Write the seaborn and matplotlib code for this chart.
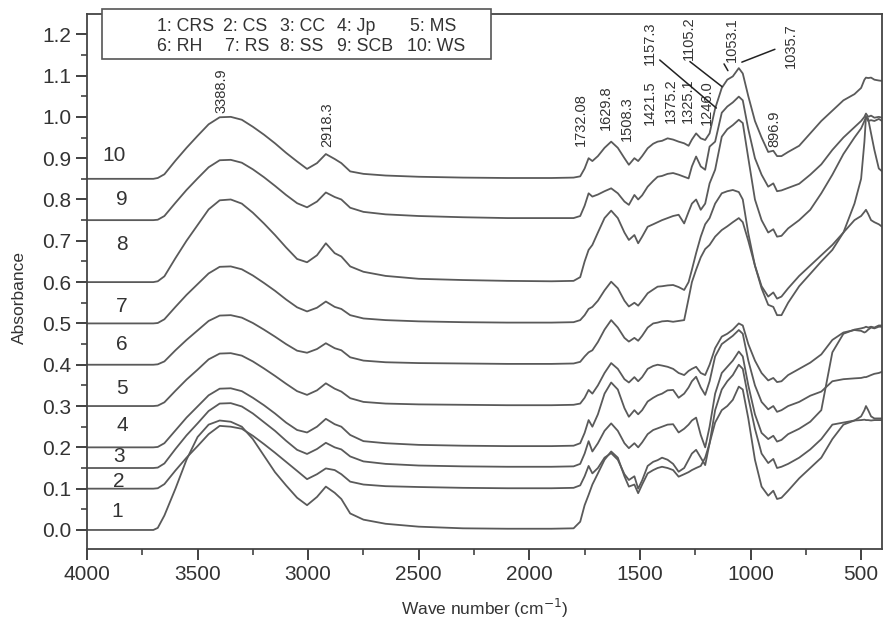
import pandas as pd
import matplotlib
matplotlib.use('Agg')
import matplotlib.pyplot as plt
import seaborn as sns
from matplotlib.patches import Rectangle
from matplotlib.ticker import MultipleLocator, FormatStrFormatter

# FTIR spectra of ten biomass samples, stacked with offsets

wavenumber = [
    4000, 3750, 3700, 3680, 3650, 3600, 3550, 3500, 3450, 3400,
    3350, 3300, 3250, 3200, 3150, 3100, 3050, 3005, 2960, 2920,
    2880, 2850, 2810, 2750, 2650, 2500, 2300, 2100, 1900, 1800,
    1770, 1750, 1732, 1715, 1690, 1660, 1630, 1600, 1570, 1550,
    1525, 1508, 1490, 1465, 1440, 1420, 1400, 1375, 1350, 1325,
    1300, 1280, 1265, 1246, 1225, 1205, 1185, 1160, 1130, 1105,
    1080, 1053, 1035, 1010, 980, 950, 920, 897, 880, 860,
    830, 780, 730, 680, 630, 580, 530, 500, 485, 478,
    468, 455, 440, 420, 405,
]

crs = [
    0.0, 0.0, 0.0, 0.005, 0.035, 0.10, 0.17, 0.225, 0.255, 0.265,
    0.262, 0.25, 0.22, 0.18, 0.14, 0.108, 0.078, 0.06, 0.08, 0.105,
    0.09, 0.075, 0.04, 0.025, 0.015, 0.008, 0.004, 0.003, 0.003, 0.004,
    0.02, 0.06, 0.085, 0.11, 0.137, 0.17, 0.19, 0.175, 0.13, 0.105,
    0.11, 0.089, 0.11, 0.137, 0.145, 0.15, 0.153, 0.15, 0.145, 0.129,
    0.135, 0.14, 0.145, 0.15, 0.155, 0.175, 0.21, 0.26, 0.29, 0.30,
    0.315, 0.347, 0.34, 0.27, 0.17, 0.105, 0.083, 0.095, 0.075, 0.078,
    0.095, 0.125, 0.15, 0.175, 0.22, 0.255, 0.265, 0.266, 0.267, 0.266,
    0.266, 0.265, 0.266, 0.266, 0.266,
]
cs = [
    0.10, 0.10, 0.10, 0.101, 0.111, 0.144, 0.175, 0.203, 0.232, 0.252,
    0.25, 0.245, 0.228, 0.208, 0.187, 0.165, 0.143, 0.123, 0.135, 0.149,
    0.145, 0.135, 0.117, 0.11, 0.106, 0.104, 0.102, 0.101, 0.101, 0.102,
    0.108, 0.13, 0.155, 0.137, 0.15, 0.175, 0.186, 0.17, 0.135, 0.121,
    0.13, 0.10, 0.12, 0.155, 0.165, 0.169, 0.175, 0.17, 0.16, 0.141,
    0.15, 0.17, 0.185, 0.194, 0.175, 0.157, 0.21, 0.29, 0.34, 0.36,
    0.375, 0.40, 0.39, 0.32, 0.245, 0.185, 0.162, 0.172, 0.15, 0.153,
    0.16, 0.175, 0.195, 0.22, 0.255, 0.26, 0.265, 0.275, 0.29, 0.30,
    0.29, 0.275, 0.27, 0.27, 0.27,
]
cc = [
    0.15, 0.15, 0.15, 0.151, 0.161, 0.196, 0.229, 0.258, 0.288, 0.306,
    0.307, 0.299, 0.282, 0.261, 0.24, 0.216, 0.194, 0.184, 0.196, 0.211,
    0.20, 0.195, 0.178, 0.166, 0.16, 0.156, 0.154, 0.153, 0.153, 0.154,
    0.16, 0.185, 0.215, 0.19, 0.21, 0.24, 0.258, 0.24, 0.21, 0.198,
    0.21, 0.20, 0.212, 0.232, 0.242, 0.246, 0.25, 0.255, 0.256, 0.236,
    0.245, 0.255, 0.265, 0.272, 0.23, 0.20, 0.25, 0.33, 0.38, 0.395,
    0.41, 0.432, 0.42, 0.35, 0.28, 0.235, 0.22, 0.228, 0.214, 0.218,
    0.232, 0.245, 0.262, 0.29, 0.43, 0.475, 0.485, 0.488, 0.49, 0.492,
    0.49, 0.492, 0.49, 0.495, 0.495,
]
jp = [
    0.20, 0.20, 0.20, 0.201, 0.21, 0.241, 0.272, 0.299, 0.326, 0.342,
    0.343, 0.336, 0.32, 0.302, 0.282, 0.26, 0.242, 0.236, 0.25, 0.269,
    0.256, 0.25, 0.23, 0.215, 0.21, 0.206, 0.204, 0.203, 0.203, 0.204,
    0.21, 0.235, 0.266, 0.25, 0.28, 0.33, 0.357, 0.34, 0.295, 0.274,
    0.29, 0.28, 0.29, 0.311, 0.32, 0.326, 0.33, 0.338, 0.339, 0.32,
    0.33, 0.345, 0.36, 0.371, 0.345, 0.327, 0.36, 0.42, 0.45, 0.46,
    0.47, 0.484, 0.475, 0.41, 0.35, 0.31, 0.292, 0.30, 0.286, 0.29,
    0.30, 0.31, 0.325, 0.335, 0.36, 0.365, 0.367, 0.368, 0.37, 0.37,
    0.372, 0.375, 0.378, 0.38, 0.383,
]
ms = [
    0.30, 0.30, 0.30, 0.301, 0.309, 0.337, 0.364, 0.388, 0.413, 0.427,
    0.428, 0.422, 0.408, 0.391, 0.373, 0.354, 0.336, 0.327, 0.338, 0.355,
    0.342, 0.335, 0.319, 0.31, 0.306, 0.304, 0.303, 0.302, 0.302, 0.303,
    0.306, 0.32, 0.339, 0.33, 0.35, 0.38, 0.404, 0.39, 0.365, 0.357,
    0.37, 0.36, 0.37, 0.39, 0.397, 0.40, 0.398, 0.395, 0.39, 0.38,
    0.375, 0.385, 0.39, 0.395, 0.38, 0.375, 0.40, 0.44, 0.468, 0.475,
    0.485, 0.50, 0.495, 0.45, 0.41, 0.38, 0.362, 0.368, 0.358, 0.36,
    0.375, 0.39, 0.405, 0.425, 0.46, 0.478, 0.484, 0.482, 0.478, 0.48,
    0.485, 0.49, 0.488, 0.492, 0.492,
]
rh = [
    0.40, 0.40, 0.40, 0.401, 0.408, 0.435, 0.46, 0.483, 0.506, 0.519,
    0.52, 0.514, 0.501, 0.485, 0.468, 0.45, 0.434, 0.429, 0.438, 0.452,
    0.44, 0.435, 0.418, 0.41, 0.406, 0.404, 0.403, 0.402, 0.402, 0.403,
    0.407, 0.42, 0.43, 0.435, 0.455, 0.485, 0.508, 0.49, 0.465, 0.456,
    0.465, 0.458, 0.47, 0.49, 0.50, 0.502, 0.505, 0.506, 0.504, 0.506,
    0.508, 0.56, 0.60, 0.63, 0.66, 0.68, 0.69, 0.71, 0.726, 0.735,
    0.745, 0.755, 0.745, 0.70, 0.64, 0.585, 0.545, 0.54, 0.52, 0.52,
    0.55, 0.59, 0.62, 0.65, 0.678, 0.72, 0.79, 0.85, 0.94, 1.0,
    0.995, 0.96, 0.92, 0.875, 0.868,
]
rs = [
    0.50, 0.50, 0.50, 0.501, 0.51, 0.54, 0.569, 0.595, 0.621, 0.637,
    0.638, 0.631, 0.616, 0.598, 0.579, 0.558, 0.539, 0.529, 0.538, 0.553,
    0.54, 0.535, 0.52, 0.512, 0.508, 0.505, 0.503, 0.502, 0.502, 0.503,
    0.508, 0.52, 0.535, 0.54, 0.555, 0.58, 0.601, 0.585, 0.555, 0.541,
    0.55, 0.543, 0.555, 0.573, 0.582, 0.589, 0.59, 0.592, 0.593, 0.588,
    0.581, 0.60, 0.63, 0.67, 0.71, 0.74, 0.755, 0.79, 0.815, 0.82,
    0.823, 0.818, 0.80, 0.718, 0.64, 0.59, 0.565, 0.575, 0.56, 0.565,
    0.585, 0.615, 0.64, 0.665, 0.69, 0.72, 0.75, 0.76, 0.77, 0.775,
    0.765, 0.75, 0.745, 0.74, 0.734,
]
ss = [
    0.60, 0.60, 0.60, 0.602, 0.614, 0.658, 0.70, 0.738, 0.776, 0.798,
    0.80, 0.79, 0.768, 0.742, 0.714, 0.684, 0.656, 0.648, 0.665, 0.694,
    0.67, 0.662, 0.638, 0.625, 0.615, 0.608, 0.605, 0.603, 0.602, 0.603,
    0.612, 0.65, 0.678, 0.69, 0.72, 0.755, 0.773, 0.755, 0.72, 0.702,
    0.714, 0.694, 0.71, 0.734, 0.74, 0.745, 0.75, 0.755, 0.76, 0.763,
    0.742, 0.77, 0.79, 0.80, 0.775, 0.79, 0.839, 0.872, 0.952, 0.97,
    0.98, 0.993, 0.985, 0.90, 0.80, 0.75, 0.72, 0.728, 0.71, 0.712,
    0.73, 0.75, 0.775, 0.815, 0.86, 0.91, 0.95, 0.972, 0.99, 1.0,
    0.99, 0.992, 0.99, 0.995, 0.99,
]
scb = [
    0.75, 0.75, 0.75, 0.751, 0.76, 0.792, 0.823, 0.851, 0.878, 0.895,
    0.896, 0.889, 0.873, 0.854, 0.833, 0.811, 0.791, 0.781, 0.795, 0.817,
    0.806, 0.80, 0.78, 0.77, 0.764, 0.76, 0.757, 0.755, 0.755, 0.755,
    0.76, 0.785, 0.815, 0.807, 0.812, 0.82, 0.827, 0.815, 0.795, 0.787,
    0.811, 0.80, 0.81, 0.831, 0.845, 0.855, 0.857, 0.862, 0.864, 0.86,
    0.855, 0.851, 0.88, 0.904, 0.88, 0.872, 0.928, 0.94, 1.01, 1.025,
    1.035, 1.049, 1.04, 0.97, 0.90, 0.86, 0.831, 0.839, 0.82, 0.822,
    0.828, 0.838, 0.86, 0.885, 0.92, 0.95, 0.975, 0.99, 1.0, 1.008,
    1.0, 1.003, 0.998, 1.0, 0.998,
]
ws = [
    0.85, 0.85, 0.85, 0.852, 0.861, 0.894, 0.925, 0.954, 0.982, 0.999,
    1.0, 0.993, 0.976, 0.957, 0.936, 0.913, 0.892, 0.874, 0.888, 0.91,
    0.898, 0.888, 0.868, 0.862, 0.858, 0.855, 0.853, 0.852, 0.852, 0.853,
    0.856, 0.875, 0.90, 0.893, 0.905, 0.925, 0.94, 0.925, 0.90, 0.884,
    0.90, 0.893, 0.905, 0.924, 0.935, 0.94, 0.942, 0.948, 0.945, 0.94,
    0.936, 0.93, 0.945, 0.96, 0.948, 0.944, 0.96, 1.02, 1.07, 1.09,
    1.098, 1.118, 1.105, 1.05, 0.99, 0.95, 0.915, 0.918, 0.905, 0.905,
    0.915, 0.93, 0.96, 0.99, 1.015, 1.04, 1.055, 1.07, 1.09, 1.095,
    1.094, 1.095, 1.09, 1.088, 1.087,
]

sample_ids = ['1', '2', '3', '4', '5', '6', '7', '8', '9', '10']
sample_names = ['CRS', 'CS', 'CC', 'Jp', 'MS', 'RH', 'RS', 'SS', 'SCB', 'WS']
spectra = [crs, cs, cc, jp, ms, rh, rs, ss, scb, ws]

# where the curve numbers sit (wavenumber, absorbance)
label_wn = [3862, 3855, 3855, 3842, 3842, 3842, 3842, 3842, 3842, 3878]
label_abs = [0.044, 0.117, 0.178, 0.254, 0.343, 0.448, 0.54, 0.69, 0.799, 0.906]

# band positions written on the chart: (text, x, y bottom of text)
peak_labels = [
    ('3388.9', 3390, 1.01), ('2918.3', 2912, 0.927),
    ('1732.08', 1765, 0.93), ('1629.8', 1652, 0.969), ('1508.3', 1557, 0.942),
    ('1421.5', 1457, 0.98), ('1375.2', 1358, 0.985), ('1325.1', 1281, 0.985),
    ('1246.0', 1196, 0.98), ('1157.3', 1457, 1.126), ('1105.2', 1277, 1.138),
    ('1053.1', 1083, 1.133), ('1035.7', 816, 1.119), ('896.9', 893, 0.927),
]
# leader lines: (from, to)
leaders = [
    ((1420, 1.142), (1145, 1.017)),
    ((1284, 1.138), (1119, 1.069)),
    ((1126, 1.134), (1096, 1.106)),
    ((878, 1.166), (1051, 1.13)),
]

frames = []
for sid, vals in zip(sample_ids, spectra):
    frames.append(pd.DataFrame({'wn': wavenumber, 'absorbance': vals, 'sample': sid}))
df = pd.concat(frames, ignore_index=True)

sns.set_style('ticks')
plt.rcParams['font.family'] = ['Liberation Sans', 'DejaVu Sans']
txt = '#333333'

fig = plt.figure(figsize=(8.83, 6.22), dpi=100)
ax = fig.add_axes([0.0985, 0.1174, 0.9, 0.8601])

sns.lineplot(data=df, x='wn', y='absorbance', units='sample', estimator=None,
             sort=False, color='#5a5a5a', lw=1.3, ax=ax)

ax.set_xlim(4000, 407)
ax.set_ylim(-0.046, 1.249)
ax.xaxis.set_major_locator(MultipleLocator(500))
ax.xaxis.set_minor_locator(MultipleLocator(250))
ax.yaxis.set_major_locator(MultipleLocator(0.1))
ax.yaxis.set_minor_locator(MultipleLocator(0.05))
ax.yaxis.set_major_formatter(FormatStrFormatter('%.1f'))
ax.tick_params(which='major', direction='out', length=8, width=1.3,
               labelsize=15, colors=txt)
ax.tick_params(which='minor', direction='out', length=4.5, width=1.1, colors=txt)
for sp in ax.spines.values():
    sp.set_color('#444444')
    sp.set_linewidth(1.3)

ax.set_xlabel('Wave number (cm$^{-1}$)', fontsize=12.5, color=txt)
ax.set_ylabel('Absorbance', fontsize=12.5, color=txt)
ax.xaxis.set_label_coords(0.5, -0.09)
ax.yaxis.set_label_coords(-0.076, 0.47)

for sid, x, y in zip(sample_ids, label_wn, label_abs):
    ax.text(x, y, sid, fontsize=15, ha='center', va='center', color=txt)

for s, x, y in peak_labels:
    ax.text(x, y, s, rotation=90, ha='center', va='bottom', fontsize=10.5, color=txt)

for start, end in leaders:
    ax.annotate('', xy=end, xytext=start,
                arrowprops=dict(arrowstyle='-', color='#222222', lw=1.1))

# sample key box
ax.add_patch(Rectangle((0.019, 0.916), 0.489, 0.093, transform=ax.transAxes,
                       facecolor='white', edgecolor='#555555', lw=1.2,
                       clip_on=False, zorder=5))
key_x = [[0.0877, 0.1714, 0.2428, 0.3141, 0.4063],
         [0.0877, 0.1736, 0.2428, 0.3141, 0.4021]]
key_y = [0.976, 0.939]
for row in range(2):
    for col in range(5):
        i = row * 5 + col
        ax.text(key_x[row][col], key_y[row], f'{sample_ids[i]}: {sample_names[i]}',
                transform=ax.transAxes, fontsize=12.8, color=txt,
                ha='left', va='center', zorder=6)

fig.savefig('out.png', dpi=100)
